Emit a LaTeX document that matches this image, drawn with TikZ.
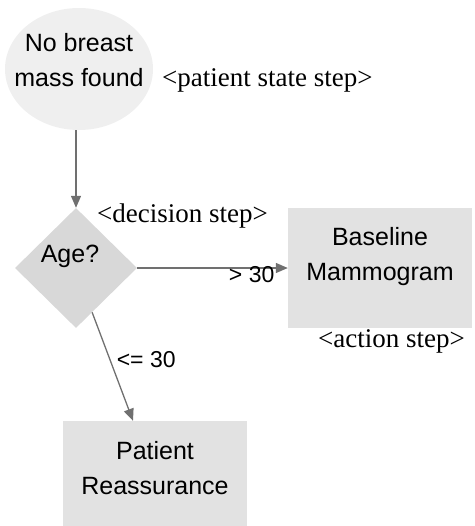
\documentclass[tikz,border=0pt]{standalone}
\usepackage{fontspec}
\setmainfont{Liberation Serif}
\setsansfont{Liberation Sans}
\usetikzlibrary{arrows.meta,shapes.geometric}

\definecolor{statefill}{HTML}{EFEFEF}
\definecolor{decfill}{HTML}{D8D8D8}
\definecolor{actfill}{HTML}{E2E2E2}
\definecolor{flowgray}{HTML}{707070}

\tikzset{
	statenode/.style={ellipse, fill=statefill, inner sep=0pt, minimum width=148pt, minimum height=122pt},
	decnode/.style={diamond, aspect=1, fill=decfill, inner sep=0pt, minimum width=122pt, minimum height=120pt},
	actnode/.style={rectangle, fill=actfill, inner sep=0pt, minimum width=184pt, minimum height=120pt},
	intxt/.style={align=center, inner sep=0pt, font=\sffamily\fontsize{25}{35}\selectfont},
	steptxt/.style={anchor=west, inner sep=0pt, font=\rmfamily\fontsize{27}{30}\selectfont},
	edgelbl/.style={inner sep=0pt, font=\sffamily\fontsize{23}{28}\selectfont},
	flow/.style={draw=flowgray, line width=1.3pt, -{Triangle[length=12pt,width=10pt]}}
}

\begin{document}
\begin{tikzpicture}[x=1pt,y=-1pt]
			%%%%% START %%%%%
			\useasboundingbox (0,0) rectangle (474,526);
			\clip (0,0) rectangle (474,526);
			
			\node[statenode, label={[intxt, yshift=9pt]center:No breast\\mass found}] (nomass) at (79,69) {};
			\node[decnode, label={[intxt, xshift=-6pt, yshift=12pt]center:Age?}] (age) at (76,268) {};
			\node[actnode, label={[intxt, yshift=11pt]center:Baseline\\Mammogram}] (mammo) at (380,268) {};
			\node[actnode, label={[intxt, yshift=13pt]center:Patient\\Reassurance}] (reassure) at (155,481) {};
			
			\node[steptxt] (statestep) at (162,80) {<patient state step>};
			\node[steptxt] (decstep) at (97,216) {<decision step>};
			\node[steptxt] (actstep) at (318,341) {<action step>};
			
			\draw[flow] (nomass.south -| age.north) -- (age.north);
			\draw[flow] (age.east) -- (mammo.west)
				node[edgelbl, pos=0.76, yshift=-7pt] (gtlbl) {> 30};
			\draw[flow] (age.-70) -- ([xshift=-22pt]reassure.north)
				node[edgelbl, pos=0.44, anchor=west, xshift=6pt] (lelbl) {<= 30};
			
			%%%%% END %%%%%
\end{tikzpicture}
\end{document}
